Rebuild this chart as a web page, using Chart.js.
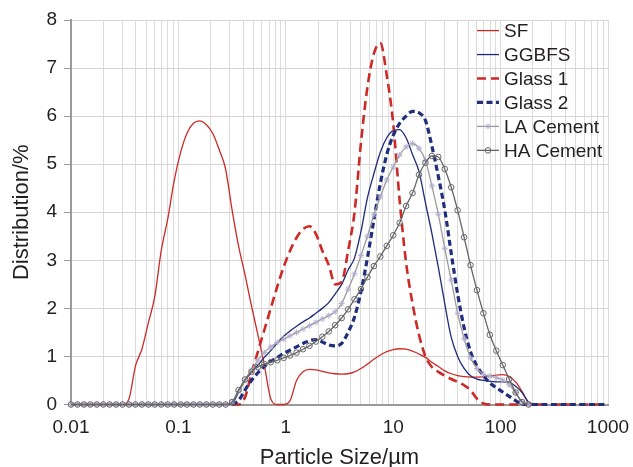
<!DOCTYPE html>
<html>
<head>
<meta charset="utf-8">
<title>Particle size distribution</title>
<script src="https://cdn.jsdelivr.net/npm/chart.js@4"></script>
<style>
  html, body { margin: 0; padding: 0; background: #fff; }
  #wrap { width: 633px; height: 467px; }
</style>
</head>
<body>
<div id="wrap"><canvas id="chart" width="633" height="467"></canvas></div>
<script>
// ------ Data ------
// particle size classes, um (laser diffraction bins)
const sizes = [
  0.01, 0.0115, 0.0132, 0.0151, 0.0174, 0.02, 0.0229, 0.0263, 0.0302, 0.0347,
  0.0398, 0.0457, 0.0525, 0.0603, 0.0692, 0.0794, 0.0912, 0.105, 0.12, 0.138,
  0.158, 0.182, 0.209, 0.24, 0.275, 0.316, 0.363, 0.417, 0.479, 0.55,
  0.631, 0.724, 0.832, 0.955, 1.096, 1.259, 1.445, 1.66, 1.905, 2.188,
  2.512, 2.884, 3.311, 3.802, 4.365, 5.012, 5.754, 6.607, 7.586, 8.71,
  10, 11.482, 13.183, 15.136, 17.378, 19.953, 22.909, 26.303, 30.2, 34.674,
  39.811, 45.709, 52.481, 60.256, 69.183, 79.433, 91.201, 104.713, 120.226, 138.038,
  158.489, 181.97, 208.93, 239.883, 275.423, 316.228, 363.078, 416.869, 478.63, 549.541,
  630.957, 724.436, 831.764, 954.993
];

const sfDist = [
  0, 0, 0, 0, 0, 0, 0, 0, 0, 0.12,
  0.8, 1.15, 1.7, 2.25, 3.2, 3.85, 4.65, 5.25, 5.64, 5.85,
  5.9, 5.82, 5.64, 5.3, 4.9, 4.05, 3.3, 2.7, 2.05, 1.45,
  0.82, 0.12, 0, 0, 0.08, 0.5, 0.68, 0.73, 0.72, 0.69,
  0.66, 0.64, 0.63, 0.64, 0.68, 0.75, 0.84, 0.94, 1.03, 1.1,
  1.14, 1.16, 1.15, 1.11, 1.05, 0.98, 0.88, 0.79, 0.7, 0.64,
  0.6, 0.58, 0.57, 0.57, 0.58, 0.59, 0.61, 0.62, 0.58, 0.47,
  0.27, 0.04, 0, null, null, null, null, null, null, null,
  null, null, null, null
];

const ggbfsDist = [
  0, 0, 0, 0, 0, 0, 0, 0, 0, 0,
  0, 0, 0, 0, 0, 0, 0, 0, 0, 0,
  0, 0, 0, 0, 0, 0.02, 0.25, 0.5, 0.67, 0.82,
  0.98, 1.12, 1.28, 1.42, 1.53, 1.63, 1.72, 1.8, 1.9, 2.0,
  2.12, 2.3, 2.5, 2.8, 3.05, 3.6, 4.3, 4.8, 5.25, 5.55,
  5.7, 5.72, 5.55, 5.2, 4.85, 4.2, 3.56, 2.86, 2.1, 1.4,
  1.0, 0.75, 0.6, 0.53, 0.5, 0.48, 0.47, 0.47, 0.46, 0.38,
  0.25, 0.05, 0, null, null, null, null, null, null, null,
  null, null, null, null
];

const glass1Dist = [
  null, null, null, null, null, null, null, null, null, null,
  null, null, null, null, null, null, null, null, null, null,
  null, null, null, null, null, 0, 0, 0.15, 0.65, 1.1,
  1.55, 2.0, 2.45, 2.86, 3.2, 3.47, 3.65, 3.71, 3.55, 3.2,
  2.9, 2.5, 2.55, 3.2, 4.0, 5.45, 6.6, 7.3, 7.52, 6.85,
  5.85, 4.25, 2.95, 2.1, 1.45, 1.0, 0.78, 0.68, 0.6, 0.53,
  0.47, 0.4, 0.3, 0.12, 0.02, 0, 0, 0, 0, 0,
  0, 0, 0, 0, 0, 0, 0, 0, 0, 0,
  0, 0, 0, 0
];

const glass2Dist = [
  null, null, null, null, null, null, null, null, null, null,
  null, null, null, null, null, null, null, null, null, null,
  null, null, null, null, null, 0, 0.08, 0.3, 0.5, 0.66,
  0.79, 0.9, 0.98, 1.06, 1.13, 1.2, 1.27, 1.33, 1.35, 1.3,
  1.24, 1.22, 1.27, 1.5, 1.82, 2.35, 3.05, 3.84, 4.6, 5.2,
  5.6, 5.85, 6.0, 6.1, 6.07, 5.91, 5.38, 4.75, 4.05, 3.15,
  2.3, 1.6, 1.1, 0.8, 0.6, 0.45, 0.35, 0.26, 0.17, 0.08,
  0.01, 0, 0, 0, 0, 0, 0, 0, 0, 0,
  0, 0, 0, 0
];

const laCementDist = [
  0, 0, 0, 0, 0, 0, 0, 0, 0, 0,
  0, 0, 0, 0, 0, 0, 0, 0, 0, 0,
  0, 0, 0, 0, 0, 0.05, 0.27, 0.5, 0.72, 0.92,
  1.08, 1.2, 1.29, 1.36, 1.43, 1.5, 1.57, 1.64, 1.71, 1.78,
  1.85, 1.93, 2.1, 2.4, 2.72, 3.1, 3.5, 3.95, 4.32, 4.67,
  4.94, 5.19, 5.36, 5.43, 5.33, 5.08, 4.55, 3.96, 3.25, 2.59,
  1.9, 1.37, 0.97, 0.75, 0.63, 0.59, 0.56, 0.51, 0.41, 0.25,
  0.06, 0, null, null, null, null, null, null, null, null,
  null, null, null, null
];

const haCementDist = [
  0, 0, 0, 0, 0, 0, 0, 0, 0, 0,
  0, 0, 0, 0, 0, 0, 0, 0, 0, 0,
  0, 0, 0, 0, 0, 0.05, 0.3, 0.52, 0.68, 0.78,
  0.84, 0.88, 0.92, 0.97, 1.02, 1.08, 1.15, 1.22, 1.31, 1.41,
  1.52, 1.65, 1.8, 1.98, 2.19, 2.4, 2.65, 2.88, 3.08, 3.3,
  3.52, 3.78, 4.13, 4.4, 4.78, 5.03, 5.17, 5.15, 4.9, 4.52,
  4.04, 3.48, 2.9, 2.38, 1.9, 1.45, 1.12, 0.82, 0.53, 0.25,
  0.05, 0, null, null, null, null, null, null, null, null,
  null, null, null, null
];

const seriesLabels = ["SF", "GGBFS", "Glass 1", "Glass 2", "LA Cement", "HA Cement"];

const xTickValues = [0.01, 0.1, 1, 10, 100, 1000];
const xTickLabels = ["0.01", "0.1", "1", "10", "100", "1000"];

// ------ Helpers ------
const FONT = '"Liberation Sans", Arial, Helvetica, sans-serif';
const INK = "#231f20";

function toPoints(values) {
  return sizes
    .map((x, i) => ({ x: x, y: values[i] }))
    .filter((p) => p.y !== null && p.y !== undefined);
}

function serie(label, values, style) {
  return Object.assign({
    label: label,
    data: toPoints(values),
    fill: false,
    pointRadius: 0,
    pointHoverRadius: 0,
    cubicInterpolationMode: "monotone",
    clip: false,
  }, style);
}

// legend drawn inside the plot, top right (line sample + marker + text)
function drawMarker(ctx, style, r, x, y) {
  ctx.beginPath();
  if (style === "circle") {
    ctx.arc(x, y, r, 0, Math.PI * 2);
  } else if (style === "star") {
    const d = r * Math.SQRT1_2;
    ctx.moveTo(x - d, y - d); ctx.lineTo(x + d, y + d);
    ctx.moveTo(x + d, y - d); ctx.lineTo(x - d, y + d);
    ctx.moveTo(x, y - r); ctx.lineTo(x, y + r);
  }
  ctx.stroke();
}

const insideLegend = {
  id: "insideLegend",
  afterDraw(chart) {
    const { ctx, chartArea } = chart;
    const x0 = chartArea.right - 131;
    const x1 = chartArea.right - 109;
    const tx = chartArea.right - 104;
    ctx.save();
    chart.data.datasets.forEach((ds, i) => {
      const y = chartArea.top + 10.6 + i * 23.95;
      ctx.save();
      ctx.strokeStyle = ds.borderColor;
      ctx.lineWidth = ds.borderWidth;
      ctx.setLineDash(ds.borderDash || []);
      ctx.beginPath();
      ctx.moveTo(x0, y);
      ctx.lineTo(x1, y);
      ctx.stroke();
      ctx.restore();
      if (ds.pointRadius > 0) {
        ctx.save();
        ctx.strokeStyle = ds.pointBorderColor;
        ctx.lineWidth = ds.pointBorderWidth;
        drawMarker(ctx, ds.pointStyle, ds.pointRadius, (x0 + x1) / 2, y);
        ctx.restore();
      }
      ctx.font = "19px " + FONT;
      ctx.fillStyle = INK;
      ctx.textBaseline = "middle";
      ctx.textAlign = "left";
      ctx.fillText(ds.label, tx, y + 1);
    });
    ctx.restore();
  },
};

// ------ Chart ------
const datasets = [
  serie(seriesLabels[0], sfDist, { borderColor: "#cc2a27", borderWidth: 1.3, order: 5 }),
  serie(seriesLabels[1], ggbfsDist, { borderColor: "#1f2b78", borderWidth: 1.3, order: 4 }),
  serie(seriesLabels[2], glass1Dist, { borderColor: "#cc2a27", borderWidth: 2.6, borderDash: [9, 5], order: 3 }),
  serie(seriesLabels[3], glass2Dist, { borderColor: "#1f2e7d", borderWidth: 3.2, borderDash: [6, 3.5], order: 2 }),
  serie(seriesLabels[4], laCementDist, {
    borderColor: "#9b9b9b", borderWidth: 1.3, order: 1,
    pointStyle: "star", pointRadius: 3, pointBorderWidth: 1,
    pointBorderColor: "#b5aed2", pointBackgroundColor: "#b5aed2",
  }),
  serie(seriesLabels[5], haCementDist, {
    borderColor: "#666666", borderWidth: 1.3, order: 0,
    pointStyle: "circle", pointRadius: 2.8, pointBorderWidth: 1,
    pointBorderColor: "#666666", pointBackgroundColor: "rgba(0,0,0,0)",
  }),
];

new Chart(document.getElementById("chart").getContext("2d"), {
  type: "line",
  data: { datasets: datasets },
  plugins: [insideLegend],
  options: {
    responsive: false,
    animation: false,
    devicePixelRatio: 1,
    events: [],
    layout: { padding: { top: 20, right: 25, left: 0, bottom: 0 } },
    plugins: { legend: { display: false }, tooltip: { enabled: false } },
    scales: {
      x: {
        type: "logarithmic",
        min: 0.01,
        max: 1000,
        afterBuildTicks(scale) {
          const t = [];
          xTickValues.forEach((v, i) => {
            if (i === xTickValues.length - 1) { t.push({ value: v }); return; }
            for (let m = 1; m < 10; m++) t.push({ value: +(v * m).toPrecision(3) });
          });
          scale.ticks = t;
        },
        afterFit(scale) {
          scale.height = 62.5;
          scale.paddingLeft = 0;
          scale.paddingRight = 0;
        },
        grid: { color: "#dcdcdc", lineWidth: 1, drawTicks: false },
        border: { color: "#9a9a9a", width: 2 },
        ticks: {
          autoSkip: false,
          maxRotation: 0,
          padding: 12,
          color: INK,
          font: { family: FONT, size: 19 },
          callback(value) {
            const i = xTickValues.indexOf(value);
            return i >= 0 ? xTickLabels[i] : "";
          },
        },
        title: {
          display: true,
          text: "Particle Size/\u00b5m",
          color: INK,
          font: { family: FONT, size: 22, lineHeight: 0.85 },
          padding: { top: 0, bottom: 0 },
        },
      },
      y: {
        min: 0,
        max: 8,
        afterFit(scale) { scale.width = 71; },
        grid: { color: "#d6d6d6", lineWidth: 1, tickLength: 7, tickColor: "#9a9a9a" },
        border: { color: "#9a9a9a", width: 2 },
        ticks: {
          stepSize: 1,
          padding: 7,
          color: INK,
          font: { family: FONT, size: 19 },
        },
        title: {
          display: true,
          text: "Distribution/%",
          color: INK,
          font: { family: FONT, size: 22 },
          padding: { top: 9, bottom: 0 },
        },
      },
    },
  },
});
</script>
</body>
</html>
